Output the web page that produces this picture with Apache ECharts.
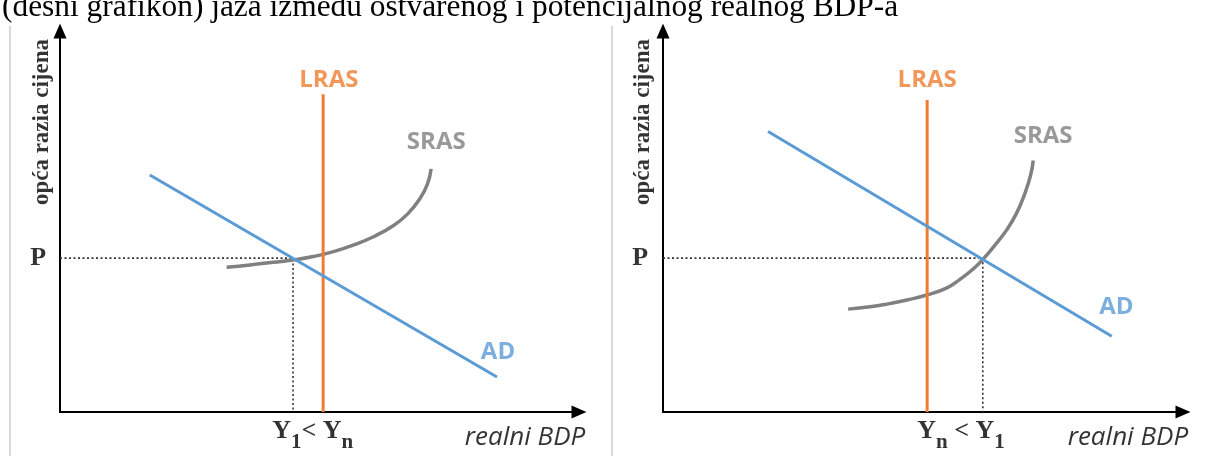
<!DOCTYPE html>
<html>
<head>
<meta charset="utf-8">
<script src="https://cdn.jsdelivr.net/npm/echarts@6/dist/echarts.min.js"></script>
<style>html,body{margin:0;padding:0;background:#fff;}#c{width:1209px;height:456px;}</style>
</head>
<body>
<div id="c"></div>
<script>
// ---- Texts ----
const headerText = '(desni grafikon) jaza između ostvarenog i potencijalnog realnog BDP-a';
const yAxisTitle = 'opća razia cijena';
const xAxisTitle = 'realni BDP';
const priceLabel = 'P';
const curveNames = ['LRAS', 'SRAS', 'AD'];

// ---- Left panel (Y1 < Yn) — data units 0..100 ----
const leftP = 40.4;
const leftY1 = 44.9;
const leftLRAS = [[50.7, 0], [50.7, 83.4]];
const leftAD = [[17.3, 62.2], [84.2, 9.2]];
const leftSRAS = [[32.1, 38.0], [36.6, 38.6], [41.1, 39.3], [44.9, 39.9], [48.8, 40.8], [52.7, 42.1], [56.5, 43.8], [60.4, 46.0], [64.2, 48.9], [67.0, 52.0], [69.3, 55.9], [70.8, 59.8], [71.5, 63.8]];
const leftLabelAt = { LRAS: [51.8, 87.0], SRAS: [72.5, 70.9], AD: [84.4, 15.7], P: [-4.2, 40.4], yTitle: [-3.5, 76.1], gap: [48.7, -6.2], xTitle: [89.6, -6.6] };
const leftGap = ['Y', '1', '< Y', 'n'];

// ---- Right panel (Yn < Y1) ----
const rightP = 40.4;
const rightY1 = 61.5;
const rightLRAS = [[50.8, 0], [50.8, 81.9]];
const rightAD = [[20.2, 73.6], [86.3, 19.9]];
const rightSRAS = [[35.6, 27.0], [39.8, 27.6], [43.0, 28.3], [46.9, 29.4], [50.7, 30.7], [54.6, 32.6], [57.1, 34.8], [59.7, 37.6], [61.6, 40.2], [63.6, 43.4], [66.1, 47.8], [68.0, 52.2], [69.6, 57.4], [70.7, 62.2], [71.2, 66.0]];
const rightLabelAt = { LRAS: [50.8, 87.1], SRAS: [73.1, 72.3], AD: [87.2, 27.6], P: [-4.4, 40.4], yTitle: [-3.9, 76.1], gap: [57.3, -6.2], xTitle: [89.4, -6.6] };
const rightGap = ['Y', 'n', ' < Y', '1'];

// ---- Styles ----
const COL = { LRAS: '#ED7D31', SRAS: '#808080', AD: '#5B9BD5' };
const sansBold = { fontFamily: 'Open Sans', fontWeight: 'bold', fontSize: 24 };

function axesFor(idx) {
  const axisLine = { show: true, onZero: false, symbol: ['none', 'triangle'], symbolSize: [13, 15], lineStyle: { color: '#000', width: 2 } };
  return {
    x: { type: 'value', gridIndex: idx, min: 0, max: 100, axisLine, axisTick: { show: false }, axisLabel: { show: false }, splitLine: { show: false } },
    y: { type: 'value', gridIndex: idx, min: 0, max: 100, axisLine, axisTick: { show: false }, axisLabel: { show: false }, splitLine: { show: false } }
  };
}

function panelSeries(idx, P, Y1, lras, ad, sras, at, gap) {
  const common = { xAxisIndex: idx, yAxisIndex: idx, symbol: 'none', silent: true, animation: false };
  const labelData = [];
  curveNames.forEach(n => labelData.push({ value: at[n], label: { formatter: n, color: COL[n], ...sansBold } }));
  labelData.push({ value: at.P, label: { formatter: priceLabel, color: '#000', fontFamily: 'Liberation Serif', fontWeight: 'bold', fontSize: 26 } });
  labelData.push({ value: at.yTitle, label: { formatter: yAxisTitle, rotate: 90, color: '#000', fontFamily: 'Liberation Serif', fontWeight: 'bold', fontSize: 23 } });
  labelData.push({ value: at.xTitle, label: { formatter: xAxisTitle, color: '#000', fontFamily: 'Open Sans', fontStyle: 'italic', fontSize: 26 } });
  labelData.push({ value: at.gap, label: {
    formatter: '{b|' + gap[0] + '}{s|' + gap[1] + '}{b|' + gap[2] + '}{s|' + gap[3] + '}',
    rich: {
      b: { fontFamily: 'Liberation Serif', fontWeight: 'bold', fontSize: 26, color: '#000', verticalAlign: 'bottom', padding: [0, 0, 8, 0] },
      s: { fontFamily: 'Liberation Serif', fontWeight: 'bold', fontSize: 21, color: '#000', verticalAlign: 'bottom' }
    } } });
  return [
    { ...common, type: 'line', data: [[0, P], [Y1, P], [Y1, 0]], lineStyle: { color: '#333', width: 1.6, type: [2, 2.5] }, z: 1 },
    { ...common, type: 'line', data: lras, lineStyle: { color: COL.LRAS, width: 3 }, z: 3 },
    { ...common, type: 'line', data: sras, smooth: 0.5, lineStyle: { color: COL.SRAS, width: 3.5 }, z: 2 },
    { ...common, type: 'line', data: ad, lineStyle: { color: COL.AD, width: 3 }, z: 4 },
    { ...common, type: 'scatter', symbol: 'circle', symbolSize: 1, itemStyle: { color: 'rgba(0,0,0,0)' }, clip: false,
      label: { show: true, position: 'inside', align: 'center', verticalAlign: 'middle' }, data: labelData, z: 5 }
  ];
}

const a0 = axesFor(0), a1 = axesFor(1);
const chart = echarts.init(document.getElementById('c'), null, { renderer: 'canvas' });
chart.setOption({
  animation: false,
  backgroundColor: '#fff',
  grid: [
    { left: 60, top: 31, width: 519, height: 381 },
    { left: 663, top: 31, width: 520, height: 381 }
  ],
  xAxis: [a0.x, a1.x],
  yAxis: [a0.y, a1.y],
  graphic: [
    { type: 'line', shape: { x1: 10, y1: 26, x2: 10, y2: 456 }, style: { stroke: '#d9d9d9', lineWidth: 2 } },
    { type: 'line', shape: { x1: 612, y1: 26, x2: 612, y2: 456 }, style: { stroke: '#d9d9d9', lineWidth: 2 } },
    { type: 'text', x: 2, y: -8, style: { text: headerText, font: '31.4px "Liberation Serif"', fill: '#000' } }
  ],
  series: [
    ...panelSeries(0, leftP, leftY1, leftLRAS, leftAD, leftSRAS, leftLabelAt, leftGap),
    ...panelSeries(1, rightP, rightY1, rightLRAS, rightAD, rightSRAS, rightLabelAt, rightGap)
  ]
});
</script>
</body>
</html>
